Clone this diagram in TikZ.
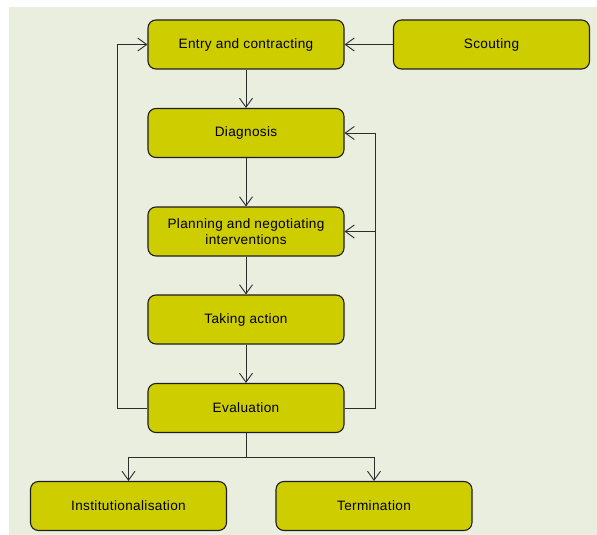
\documentclass[tikz,border=0pt]{standalone}
\usepackage{fontspec}
\setmainfont{Liberation Sans}
\newfontfamily\stagefont[LetterSpace=2.5]{Liberation Sans}
\usetikzlibrary{arrows.meta}
\definecolor{panel}{RGB}{234,238,223}
\definecolor{boxfill}{RGB}{205,205,0}
\definecolor{boxline}{RGB}{30,30,30}
\definecolor{wire}{RGB}{45,45,45}
\begin{document}
\begin{tikzpicture}[x=1pt,y=-1pt,
  stage/.style={draw=boxline,fill=boxfill,line width=1.1pt,rounded corners=8pt,
    minimum width=196pt,minimum height=49pt,align=center,inner sep=2pt,
    font=\stagefont\fontsize{13.6}{15.5}\selectfont},
  link/.style={draw=wire,line width=1pt,-{Straight Barb[length=9pt,width=13pt,line width=0.9pt]}},
  plain/.style={draw=wire,line width=1pt}]
  \useasboundingbox (0,0) rectangle (597,535);
  \fill[panel] (9,7) rectangle (597,535);

  \node[stage] (entry) at (246,44.5) {Entry and contracting};
  \node[stage] (scout) at (491.5,44.5) {Scouting};
  \node[stage] (diag) at (246,133) {Diagnosis};
  \node[stage] (plan) at (246,231.5) {Planning and negotiating\\interventions};
  \node[stage] (act) at (246,319.5) {Taking action};
  \node[stage] (eval) at (246,408) {Evaluation};
  \node[stage] (inst) at (128.5,506) {Institutionalisation};
  \node[stage] (term) at (374,506) {Termination};

  % main sequence
  \draw[link] (scout) -- (entry);
  \draw[link] (entry) -- (diag);
  \draw[link] (diag) -- (plan);
  \draw[link] (plan) -- (act);
  \draw[link] (act) -- (eval);

  % feedback back to the start
  \coordinate (lbend) at (117,408);
  \draw[link] (eval.west) -- (lbend) |- (entry.west);

  % feedback to diagnosis and planning
  \coordinate (rbend) at (375,408);
  \coordinate (rjoin) at (375,231.5);
  \draw[link] (eval.east) -- (rbend) |- (diag.east);
  \draw[link] (rjoin) -- (plan.east);

  % outcomes
  \coordinate (split) at (246,457);
  \draw[plain] (eval.south) -- (split);
  \draw[link] (split) -| (inst.north);
  \draw[link] (split) -| (term.north);
\end{tikzpicture}
\end{document}
